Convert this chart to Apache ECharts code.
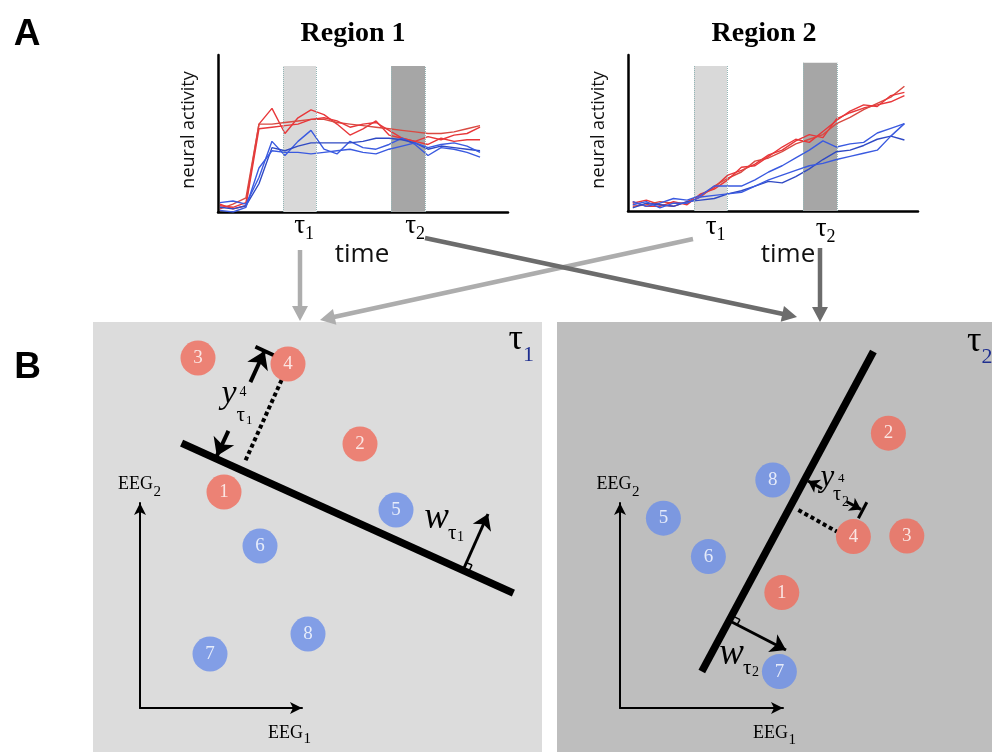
<!DOCTYPE html>
<html><head><meta charset="utf-8">
<script src="https://cdn.jsdelivr.net/npm/echarts@6/dist/echarts.min.js"></script>
<style>html,body{margin:0;padding:0;background:#fff}#c{width:992px;height:752px}</style>
</head><body><div id="c"></div>
<script>
// ---------- DATA ----------
const timeSteps = [0,1,2,3,4,5,6,7,8,9,10,11,12,13,14,15,16,17,18,19,20];
// Region 1 (neural activity, arbitrary units)
const r1RedA  = [0.4,0.3,0.6,5.6,6.6,5.0,6.0,6.5,6.2,5.6,4.9,5.3,5.8,4.9,4.7,4.5,4.8,4.6,4.9,5.0,5.4];
const r1RedB  = [0.2,0.5,0.9,5.6,5.6,5.7,5.8,5.9,5.9,5.7,5.6,5.5,5.4,5.3,5.2,5.1,5.0,5.0,5.1,5.3,5.5];
const r1RedC  = [0.5,0.2,0.4,5.3,5.4,5.5,5.6,5.9,6.0,5.8,5.4,5.6,5.7,5.2,4.7,4.5,4.3,4.7,4.5,4.6,4.6];
const r1BlueA = [0.6,0.7,0.5,2.2,4.5,3.6,4.5,5.2,4.0,3.7,4.5,4.1,4.0,4.3,4.7,4.3,3.6,4.1,4.0,3.8,3.5];
const r1BlueB = [0.3,0.2,0.4,1.8,4.1,3.9,4.2,4.4,4.4,4.4,4.4,4.5,4.7,4.7,4.6,4.4,4.0,4.2,4.1,4.0,3.9];
const r1BlueC = [0.1,0.0,0.3,2.8,3.9,3.8,3.8,3.7,3.8,3.9,4.0,3.8,3.7,4.0,4.2,4.4,4.1,4.3,4.4,4.2,3.8];
// Region 2
const r2RedA  = [0.5,0.7,0.4,0.3,0.6,1.0,1.5,2.3,2.6,3.0,3.6,3.9,4.5,4.9,4.7,5.9,6.3,6.6,6.8,7.0,7.4];
const r2RedB  = [0.3,0.4,0.6,0.5,0.5,0.9,1.6,2.1,2.5,3.2,3.4,3.8,4.3,4.6,4.9,5.6,6.0,6.5,6.9,7.3,8.0];
const r2RedC  = [0.6,0.3,0.3,0.6,0.4,1.1,1.4,2.0,2.8,2.9,3.5,4.1,4.6,4.4,5.1,5.8,6.4,6.8,6.7,7.4,7.6];
const r2BlueA = [0.6,0.3,0.5,0.8,0.7,1.0,1.6,1.6,1.6,2.0,2.5,2.9,3.4,3.9,4.5,4.1,4.3,4.4,5.0,5.3,5.6];
const r2BlueB = [0.2,0.5,0.4,0.3,0.6,0.7,0.8,1.1,1.3,1.6,1.9,1.8,2.2,2.7,3.3,3.8,3.9,4.2,4.6,4.8,4.55];
const r2BlueC = [0.4,0.6,0.2,0.5,0.5,0.9,1.0,1.1,1.2,1.6,2.0,2.3,2.6,2.9,3.05,3.3,3.5,3.7,3.9,4.8,5.6];
// time windows tau1 / tau2 [start, end, top]
const r1BandTau1 = [4.87, 7.39, 9.3];
const r1BandTau2 = [13.16, 15.77, 9.3];
const r2BandTau1 = [4.51, 6.94, 9.3];
const r2BandTau2 = [12.54, 15.04, 9.5];

// Panel B, tau1 (EEG1, EEG2 units)
const p1RedIds  = ['1','2','3','4'];
const p1RedPts  = [[4.2,10.8],[11.0,13.2],[2.9,17.5],[7.4,17.2]];
const p1BlueIds = ['5','6','7','8'];
const p1BluePts = [[12.8,9.9],[6.0,8.1],[3.5,2.7],[8.4,3.7]];
const p1Boundary   = [[2.08,13.24],[18.67,5.74]];
const p1Projection = [[7.08,16.4],[5.25,12.32]];
const p1MeasureLow = [[4.42,13.86],[3.84,12.6]];
const p1MeasureUp  = [[5.52,16.29],[6.23,17.85]];
const p1MeasureBar = [[5.77,18.06],[6.69,17.64]];
const p1Weight     = [[16.2,7.0],[17.4,9.7]];
const p1RightAngle = [[16.47,6.88],[16.6,7.15],[16.32,7.27]];

// Panel B, tau2
const p2RedIds  = ['1','2','3','4'];
const p2RedPts  = [[8.09,5.77],[13.42,13.74],[14.34,8.6],[11.67,8.57]];
const p2BlueIds = ['5','6','7','8'];
const p2BluePts = [[2.17,9.49],[4.42,7.57],[7.97,1.82],[7.64,11.4]];
const p2Boundary   = [[12.67,17.82],[4.09,1.82]];
const p2Projection = [[8.92,9.9],[10.84,8.82]];
const p2MeasureLow = [[10.1,10.97],[9.4,11.35]];
const p2MeasureUp  = [[11.34,10.31],[12.05,9.93]];
const p2MeasureBar = [[11.92,9.49],[12.34,10.29]];
const p2Weight     = [[5.59,4.3],[8.3,2.9]];
const p2RightAngle = [[5.73,4.56],[6.0,4.42],[5.85,4.16]];

// ---------- BUILD ----------
const RED = '#e8373a', RED2 = '#d94a42', BLUE = '#3a5ae0', BLUE2 = '#2f49c4';
const SERIF = '"Liberation Serif", "DejaVu Serif", serif';
const SANS = '"Open Sans", "Liberation Sans", sans-serif';

function ts(arr){ return timeSteps.map((t,i)=>[t,arr[i]]); }
function lineS(arr, color, gi, extra){
  return Object.assign({type:'line', xAxisIndex:gi, yAxisIndex:gi, data:ts(arr), symbol:'none',
    lineStyle:{color, width:1.4}, silent:true, z:3}, extra||{});
}
function bands(b1, b2){
  return {
    markArea:{silent:true, data:[
      [{xAxis:b1[0], yAxis:0, itemStyle:{color:'#d9d9d9'}},{xAxis:b1[1], yAxis:b1[2]}],
      [{xAxis:b2[0], yAxis:0, itemStyle:{color:'#a6a6a6'}},{xAxis:b2[1], yAxis:b2[2]}]
    ]},
    markLine:{silent:true, symbol:'none', label:{show:false}, emphasis:{disabled:true},
      lineStyle:{color:'#93b5b5', type:'dotted', width:1},
      data:[b1[0],b1[1],b2[0],b2[1]].map((x,i)=>{const top=i<2?b1[2]:b2[2];return [{coord:[x,0]},{coord:[x,top]}];})}
  };
}
function seg(pts, arrow, width, size){
  return [{coord:pts[0], symbol:'none', lineStyle:{color:'#000', width:width||4, type:'solid'}},
          {coord:pts[1], symbol: arrow?'arrow':'none', symbolSize: size||16}];
}
function panelSeries(gi, redPts, redIds, bluePts, blueIds, boundary, proj, mLow, mUp, mBar, weight, ra, small){
  const mk = (pts, ids)=>pts.map((p,i)=>({name:ids[i], value:p}));
  const circ = (data, color)=>({type:'scatter', xAxisIndex:gi, yAxisIndex:gi, data, symbolSize:35,
    itemStyle:{color}, z:5, silent:true,
    label:{show:true, position:'inside', formatter:'{b}', color:'#fff', fontFamily:SERIF, fontSize:19}});
  const ms = small ? 11 : 17, mw = small ? 3 : 4;
  return [
    {type:'line', xAxisIndex:gi, yAxisIndex:gi, data:boundary, symbol:'none', silent:true, z:4,
      lineStyle:{color:'#000', width:7.5},
      markLine:{silent:true, symbol:['none','arrow'], symbolSize:16, label:{show:false}, emphasis:{disabled:true},
        data:[seg(mLow,true,mw,ms), seg(mUp,true,mw,ms), seg(mBar,false,mw), seg(weight,true,3,15),
              seg([ra[0],ra[1]],false,1.5), seg([ra[1],ra[2]],false,1.5)]}},
    {type:'line', xAxisIndex:gi, yAxisIndex:gi, data:proj, symbol:'none', silent:true, z:4,
      lineStyle:{color:'#000', width:4, type:[4,3]}},
    circ(mk(redPts, redIds), '#f06b5b'),
    circ(mk(bluePts, blueIds), '#6b8ee9')
  ];
}

const hidden = {axisTick:{show:false}, axisLabel:{show:false}, splitLine:{show:false}};
function axisA(extra){ return Object.assign({type:'value', axisLine:{show:true, onZero:false, lineStyle:{color:'#000', width:2.5}}}, hidden, extra); }
function axisB(extra){ return Object.assign({type:'value', axisLine:{show:true, onZero:false, symbol:['none','arrow'], symbolSize:[9,12], lineStyle:{color:'#000', width:2}}}, hidden, extra); }
function axisH(extra){ return Object.assign({type:'value', axisLine:{show:false}}, hidden, extra); }

function txt(text, x, y, font, fill, align, extra){
  return Object.assign({type:'text', x, y, z:60, silent:true,
    style:{text, font, fill: fill||'#000', align: align||'center', verticalAlign:'middle'}}, extra||{});
}
function arrowEls(x1,y1,x2,y2,color,w,hl,hw){
  const dx=x2-x1, dy=y2-y1, L=Math.hypot(dx,dy), ux=dx/L, uy=dy/L;
  const bx=x2-ux*hl, by=y2-uy*hl;
  return [
    {type:'line', z:50, silent:true, shape:{x1:x1,y1:y1,x2:bx+ux*2,y2:by+uy*2}, style:{stroke:color, lineWidth:w}},
    {type:'polygon', z:50, silent:true, shape:{points:[[x2,y2],[bx-uy*hw,by+ux*hw],[bx+uy*hw,by-ux*hw]]}, style:{fill:color}}
  ];
}

const LIGHT = '#adadad', DARK = '#6c6c6c', NAVY = '#1f2f8f';
const graphics = [
  {type:'rect', z:-10, silent:true, shape:{x:93,y:322,width:449,height:430}, style:{fill:'#dcdcdc'}},
  {type:'rect', z:-10, silent:true, shape:{x:557,y:322,width:435,height:430}, style:{fill:'#bebebe'}},
  ...arrowEls(300,250,300,321,LIGHT,4.5,15,8),
  ...arrowEls(693,239,320,320,LIGHT,4.5,15,8),
  ...arrowEls(425,238,797,317,DARK,4.5,15,8),
  ...arrowEls(820,248,820,322,DARK,4.5,15,8),
  txt('A', 27, 35, 'bold 37px "Liberation Sans"'),
  txt('B', 27.5, 368, 'bold 37px "Liberation Sans"'),
  txt('Region 1', 353, 33.5, 'bold 28px '+SERIF),
  txt('Region 2', 764, 33.5, 'bold 28px '+SERIF),
  txt('neural activity', 189, 130, '18px '+SANS, '#111', 'center', {rotation:Math.PI/2}),
  txt('neural activity', 599, 130, '18px '+SANS, '#111', 'center', {rotation:Math.PI/2}),
  txt('time', 362, 255, '26px '+SANS, '#111'),
  txt('time', 788, 255, '26px '+SANS, '#111'),
  txt('τ', 305, 226, '27px '+SERIF, '#000', 'right'), txt('1', 305, 234, '18px '+SERIF, '#000', 'left'),
  txt('τ', 416, 226, '27px '+SERIF, '#000', 'right'), txt('2', 416, 234, '18px '+SERIF, '#000', 'left'),
  txt('τ', 716.5, 227, '27px '+SERIF, '#000', 'right'), txt('1', 716.5, 235, '18px '+SERIF, '#000', 'left'),
  txt('τ', 826.5, 229, '27px '+SERIF, '#000', 'right'), txt('2', 826.5, 237, '18px '+SERIF, '#000', 'left'),
  // panel B titles
  txt('τ', 523, 340, '36px '+SERIF, '#000', 'right'), txt('1', 523, 355.5, '22px '+SERIF, NAVY, 'left'),
  txt('τ', 981.5, 341.5, '36px '+SERIF, '#000', 'right'), txt('2', 981.5, 357.5, '22px '+SERIF, NAVY, 'left'),
  // EEG labels
  txt('EEG', 153, 484, '18px '+SERIF, '#000', 'right'), txt('2', 153.5, 492, '15px '+SERIF, '#000', 'left'),
  txt('EEG', 303, 733, '18px '+SERIF, '#000', 'right'), txt('1', 303.5, 739, '15px '+SERIF, '#000', 'left'),
  txt('EEG', 631.5, 484, '18px '+SERIF, '#000', 'right'), txt('2', 632, 492, '15px '+SERIF, '#000', 'left'),
  txt('EEG', 788, 733, '18px '+SERIF, '#000', 'right'), txt('1', 788.5, 740, '15px '+SERIF, '#000', 'left'),
  // y labels
  txt('y', 229, 394, 'italic 34px '+SERIF), txt('4', 239.5, 392, '14px '+SERIF, '#000', 'left'),
  txt('τ', 236.5, 415, '21px '+SERIF, '#000', 'left'), txt('1', 246, 421, '13px '+SERIF, '#000', 'left'),
  txt('y', 827.5, 478, 'italic 31px '+SERIF), txt('4', 838, 479, '13px '+SERIF, '#000', 'left'),
  txt('τ', 833, 495, '20px '+SERIF, '#000', 'left'), txt('2', 842, 502.5, '14px '+SERIF, '#000', 'left'),
  // w labels
  txt('w', 436.5, 518, 'italic 37px '+SERIF), txt('τ', 448, 533, '21px '+SERIF, '#000', 'left'), txt('1', 457, 537, '14px '+SERIF, '#000', 'left'),
  txt('w', 731.5, 654.5, 'italic 37px '+SERIF), txt('τ', 743, 668, '21px '+SERIF, '#000', 'left'), txt('2', 752, 672.5, '14px '+SERIF, '#000', 'left')
];

const option = {
  animation:false,
  backgroundColor:'#fff',
  grid:[
    {left:218, top:55, width:290, height:157},
    {left:628, top:55, width:290, height:156},
    {left:93, top:322, width:449, height:430},
    {left:557, top:322, width:435, height:430},
    {left:140, top:503, width:162, height:205},
    {left:620, top:503, width:163, height:205}
  ],
  xAxis:[
    axisA({gridIndex:0, min:-0.15, max:22.15}),
    axisA({gridIndex:1, min:-0.35, max:21.0}),
    axisH({gridIndex:2, min:-2.35, max:20.1}),
    axisH({gridIndex:3, min:-3.15, max:18.6}),
    axisB({gridIndex:4, min:0, max:8.1}),
    axisB({gridIndex:5, min:0, max:8.15})
  ],
  yAxis:[
    axisA({gridIndex:0, min:0, max:10}),
    axisA({gridIndex:1, min:0, max:10}),
    axisH({gridIndex:2, min:-2.2, max:19.3}),
    axisH({gridIndex:3, min:-2.2, max:19.3}),
    axisB({gridIndex:4, min:0, max:10.25}),
    axisB({gridIndex:5, min:0, max:10.25})
  ],
  graphic:{elements:graphics},
  series:[
    lineS(r1RedA, RED, 0, bands(r1BandTau1, r1BandTau2)),
    lineS(r1RedB, RED2, 0), lineS(r1RedC, RED, 0),
    lineS(r1BlueA, BLUE, 0), lineS(r1BlueB, BLUE2, 0), lineS(r1BlueC, BLUE, 0),
    lineS(r2RedA, RED, 1, bands(r2BandTau1, r2BandTau2)),
    lineS(r2RedB, RED2, 1), lineS(r2RedC, RED, 1),
    lineS(r2BlueA, BLUE, 1), lineS(r2BlueB, BLUE2, 1), lineS(r2BlueC, BLUE, 1),
    ...panelSeries(2, p1RedPts, p1RedIds, p1BluePts, p1BlueIds, p1Boundary, p1Projection, p1MeasureLow, p1MeasureUp, p1MeasureBar, p1Weight, p1RightAngle, false),
    ...panelSeries(3, p2RedPts, p2RedIds, p2BluePts, p2BlueIds, p2Boundary, p2Projection, p2MeasureLow, p2MeasureUp, p2MeasureBar, p2Weight, p2RightAngle, true)
  ]
};
echarts.init(document.getElementById('c')).setOption(option);
</script>
</body></html>
